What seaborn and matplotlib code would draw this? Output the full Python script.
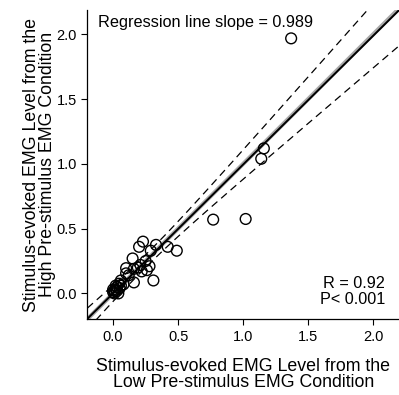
import numpy as np
import pandas as pd
import matplotlib
matplotlib.use("Agg")
import matplotlib.pyplot as plt
import seaborn as sns

# Data
low_emg = [1.37, 1.16, 1.14, 0.77, 1.02, 0.23, 0.20, 0.33, 0.42, 0.49,
           0.29, 0.15, 0.25, 0.21, 0.28, 0.10, 0.16, 0.26, 0.31, 0.16,
           0.10, 0.06, 0.045, 0.03, 0.02, 0.01, 0.00, 0.03, 0.05, 0.02,
           0.04, 0.06, 0.12, 0.19, 0.22, 0.08, 0.00, 0.01]
high_emg = [1.97, 1.12, 1.04, 0.57, 0.575, 0.40, 0.36, 0.375, 0.36, 0.33,
            0.33, 0.27, 0.25, 0.22, 0.21, 0.195, 0.19, 0.18, 0.10, 0.085,
            0.155, 0.10, 0.075, 0.05, 0.03, 0.02, 0.01, 0.02, 0.04, 0.06,
            0.00, 0.06, 0.14, 0.20, 0.17, 0.07, 0.03, 0.00]
tick_vals = [0.0, 0.5, 1.0, 1.5, 2.0]
tick_labels = ["0.0", "0.5", "1.0", "1.5", "2.0"]
slope_text = "Regression line slope = 0.989"
stats_text = "R = 0.92\nP< 0.001"
xlabel = "Stimulus-evoked EMG Level from the\nLow Pre-stimulus EMG Condition"
ylabel = "Stimulus-evoked EMG Level from the\nHigh Pre-stimulus EMG Condition"

df = pd.DataFrame({"low": low_emg, "high": high_emg})

sns.set_style("ticks")
plt.rcParams["font.family"] = ["Liberation Sans", "DejaVu Sans"]
plt.rcParams["text.color"] = "black"
plt.rcParams["axes.labelcolor"] = "black"
plt.rcParams["xtick.color"] = "black"
plt.rcParams["ytick.color"] = "black"

fig = plt.figure(figsize=(3.99, 3.95), dpi=100)
ax = fig.add_axes([0.219, 0.1916, 0.781, 0.7834])
xlim = (-0.198, 2.2)
ylim = (-0.2, 2.19)
ax.set_xlim(*xlim)
ax.set_ylim(*ylim)

# identity line
ax.axline((0, 0), slope=1, color="#a8a8a8", lw=3.0, zorder=1)

# regression line
sns.regplot(data=df, x="low", y="high", ax=ax, scatter=False, ci=None,
            truncate=False, line_kws=dict(color="black", lw=1.4, zorder=2))

# 95% confidence band of regression (dashed)
x = np.asarray(low_emg)
y = np.asarray(high_emg)
n = len(x)
b, a = np.polyfit(x, y, 1)
resid = y - (a + b * x)
s = np.sqrt(np.sum(resid ** 2) / (n - 2))
sxx = np.sum((x - x.mean()) ** 2)
t = 2.028
xs = np.linspace(xlim[0], xlim[1], 200)
half = t * s * np.sqrt(1.0 / n + (xs - x.mean()) ** 2 / sxx)
fit = a + b * xs
ax.plot(xs, fit + half, ls=(0, (6, 4)), color="black", lw=0.9, zorder=2)
ax.plot(xs, fit - half, ls=(0, (6, 4)), color="black", lw=0.9, zorder=2)

sns.scatterplot(data=df, x="low", y="high", ax=ax, s=60, marker="o",
                facecolor="none", edgecolor="black", linewidth=1.0, zorder=3)

ax.set_xlim(*xlim)
ax.set_ylim(*ylim)
ax.set_xticks(tick_vals)
ax.set_xticklabels(tick_labels)
ax.set_yticks(tick_vals)
ax.set_yticklabels(tick_labels)
ax.tick_params(labelsize=10.5, length=4, width=0.8, colors="black")
for sp in ["top", "right"]:
    ax.spines[sp].set_visible(False)
for sp in ["left", "bottom"]:
    ax.spines[sp].set_linewidth(0.9)
    ax.spines[sp].set_color("black")

ax.set_xlabel(xlabel, fontsize=12.8, labelpad=10, linespacing=0.95)
ax.set_ylabel(ylabel, fontsize=12.8, labelpad=0, linespacing=0.95)

ax.text(0.035, 0.985, slope_text, transform=ax.transAxes, fontsize=11.7,
        ha="left", va="top")
ax.text(0.955, 0.04, stats_text, transform=ax.transAxes, fontsize=11.7,
        ha="right", va="bottom", linespacing=1.05)

fig.savefig("out.png", dpi=100)
